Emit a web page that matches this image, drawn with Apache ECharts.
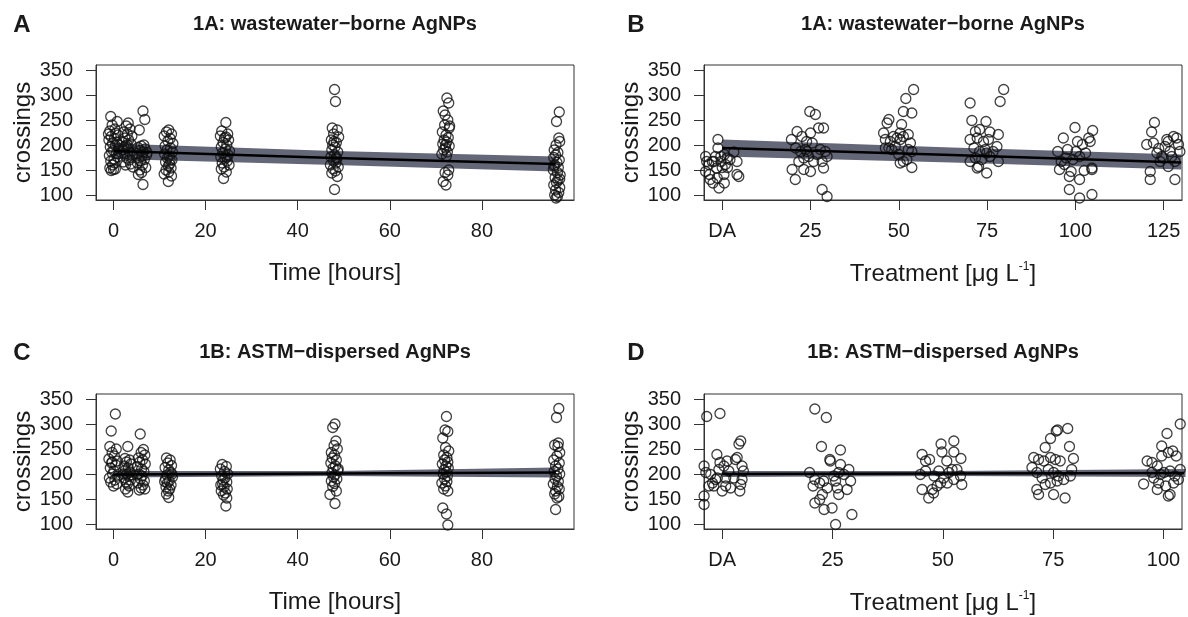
<!DOCTYPE html>
<html><head><meta charset="utf-8">
<script src="https://cdn.jsdelivr.net/npm/echarts@6/dist/echarts.min.js"></script>
<style>html,body{margin:0;padding:0;background:#fff}#c{width:1188px;height:617px}</style>
</head><body><div id="c"></div>
<script>
// ---------- tick labels / texts ----------
const yTicks = [100, 150, 200, 250, 300, 350];
const timeTicks = [0, 20, 40, 60, 80];
const treatTicksB = [0, 25, 50, 75, 100, 125];
const treatTicksD = [0, 25, 50, 75, 100];
const panelLetters = ['A', 'B', 'C', 'D'];
const panelTitles = ['1A: wastewater\u2212borne AgNPs', '1A: wastewater\u2212borne AgNPs',
                     '1B: ASTM\u2212dispersed AgNPs', '1B: ASTM\u2212dispersed AgNPs'];

// ---------- Panel A: crossings vs time ----------
const pointsA = [
 [-0.6,257],[0.8,247],[-0.3,240],[0.3,232],[-0.8,228],[0.5,224],[1.0,220],[-0.5,217],[0.2,213],[-1.0,210],[0.7,206],[-0.2,203],[0.4,199],[-0.7,196],[1.1,193],[0.0,189],[-0.4,186],[0.6,183],[-0.9,179],[0.9,176],[0.1,172],[-0.6,168],[0.3,164],[-0.2,160],[-0.8,154],[0.0,151],[-0.5,149],[0.4,152],[-1.1,222],[1.2,200],
 [3.2,244],[2.8,238],[3.6,232],[2.2,226],[3.0,222],[4.0,218],[2.5,214],[3.3,210],[1.9,206],[3.8,202],[2.7,198],[3.1,194],[2.0,190],[3.5,186],[2.4,182],[4.1,178],[2.9,174],[3.4,170],[2.1,166],[3.7,162],[2.6,160],[4.2,156],[3.0,200],[2.3,196],
 [6.4,268],[6.8,251],[5.6,230],[6.0,198],[5.3,195],[6.9,192],[5.8,189],[6.5,186],[5.1,183],[7.2,180],[6.2,177],[5.5,174],[6.7,171],[5.9,168],[5.2,164],[6.3,160],[7.0,155],[5.7,150],[6.1,145],[5.4,141],[6.6,200],[6.4,121],[7.3,185],[5.0,178],
 [12.0,230],[11.5,226],[12.6,222],[11.0,218],[12.3,213],[11.8,208],[12.9,203],[11.2,198],[12.4,194],[11.6,190],[12.8,186],[11.1,182],[12.1,178],[11.7,174],[12.7,170],[11.3,166],[12.2,162],[11.9,158],[12.5,154],[11.4,150],[12.0,146],[11.0,142],[12.6,138],[11.9,127],[12.3,170],
 [24.4,245],[23.5,228],[24.8,222],[23.2,218],[24.1,214],[25.0,210],[23.8,205],[24.6,200],[23.4,196],[24.3,192],[25.2,188],[23.7,184],[24.9,180],[23.3,176],[24.2,172],[24.7,168],[23.6,164],[25.1,160],[24.0,156],[23.4,152],[24.5,146],[23.9,133],[24.4,216],[24.6,176],
 [48.0,311],[48.2,287],[47.5,234],[48.6,230],[47.8,222],[48.9,216],[47.3,210],[48.4,205],[47.6,200],[48.1,196],[47.4,190],[48.7,186],[48.0,180],[47.2,176],[48.5,172],[47.8,168],[48.3,164],[47.1,160],[48.8,156],[47.7,152],[48.2,148],[47.4,144],[48.6,137],[48.0,111],[47.9,207],[48.4,175],
 [72.4,294],[72.8,284],[71.6,268],[72.0,260],[72.6,250],[71.9,240],[72.9,234],[71.4,226],[72.2,220],[72.7,215],[71.8,210],[72.4,206],[71.5,202],[72.9,198],[72.1,194],[71.7,190],[72.5,186],[71.3,182],[72.3,178],[72.8,150],[72.0,145],[72.6,140],[71.6,127],[72.2,120],[72.1,200],[73.0,238],
 [96.8,266],[96.2,247],[96.7,214],[96.9,207],[96.1,200],[95.7,190],[96.5,185],[96.0,180],[95.6,175],[96.8,170],[96.3,165],[95.8,160],[96.6,155],[95.5,150],[96.4,145],[97.0,140],[95.9,135],[96.5,130],[96.2,125],[95.6,120],[96.9,115],[96.0,110],[96.7,105],[95.8,100],[96.4,97],[96.1,94],[96.9,132],[95.6,158]
];
const fitXA = [0, 48, 96];
const fitA = [188, 174, 162];
const loA = [172, 160, 147];
const hiA = [203, 188, 177];

// ---------- Panel B: crossings vs treatment ----------
const pointsB = [
 [-4.7,177],[-4.4,167],[-4.7,147],[-3.6,141],[-3.4,131],[-2.6,124],[-2.3,167],[-1.6,154],[-1.2,211],[-1.2,194],[-0.9,114],[-0.4,177],[-0.3,167],[0.0,155],[0.5,141],[0.6,124],[0.9,161],[1.4,174],[1.5,155],[2.2,171],[3.3,186],[4.2,167],[4.2,141],[4.7,137],[-3.8,161],[-2.8,167],[-1.9,177],[0.6,181],[-1.4,134],
 [19.6,211],[21.2,227],[22.6,217],[24.8,267],[26.4,261],[25.0,224],[23.9,207],[20.8,194],[22.2,187],[23.6,191],[25.5,204],[27.3,234],[28.7,234],[27.8,191],[29.2,187],[29.7,177],[28.3,167],[28.7,154],[26.9,181],[25.9,167],[24.5,177],[23.1,174],[21.7,167],[23.1,151],[25.0,147],[19.8,151],[20.7,131],[28.3,111],[29.7,97],[24.0,187],
 [54.2,311],[52.0,293],[51.3,267],[53.7,264],[50.8,241],[50.4,224],[47.2,251],[46.7,244],[45.7,224],[46.2,211],[47.6,207],[48.5,217],[49.5,214],[50.4,211],[51.3,217],[52.7,221],[53.3,204],[53.7,187],[52.3,171],[51.3,167],[50.4,164],[53.7,155],[46.2,194],[48.0,191],[49.0,197],[47.2,194],[52.7,191],[50.0,181],
 [70.2,284],[78.7,287],[79.7,311],[70.7,249],[74.7,247],[72.9,231],[71.7,227],[75.8,226],[78.2,221],[70.2,211],[72.2,214],[74.0,207],[75.4,211],[77.8,197],[71.3,194],[72.9,187],[74.9,184],[76.7,187],[71.7,174],[73.5,171],[70.2,167],[72.6,157],[74.9,144],[78.2,167],[75.8,177],[72.2,154],[74.5,191],
 [99.9,235],[104.9,229],[96.6,214],[104.2,207],[95.0,187],[97.8,191],[100.6,207],[102.0,201],[102.9,184],[96.0,167],[97.4,174],[99.3,171],[101.2,177],[104.7,154],[95.5,151],[98.3,137],[101.2,131],[102.5,149],[104.7,151],[98.3,111],[101.2,94],[104.7,101],[100.2,187],[96.9,161],[103.8,214],[98.8,147],
 [122.4,245],[121.6,226],[120.2,201],[122.1,204],[123.6,193],[125.9,211],[127.8,217],[129.2,201],[126.8,187],[124.9,174],[124.0,167],[128.2,167],[126.3,157],[121.2,147],[121.2,131],[128.2,131],[125.4,197],[129.6,187],[124.5,177],[127.3,177],[123.1,184],[128.7,214],[126.3,207]
];
const fitXB = [0, 65, 130];
const fitB = [194, 180, 165];
const loB = [177, 165, 151];
const hiB = [211, 195, 181];

// ---------- Panel C: crossings vs time ----------
const pointsC = [
 [0.4,320],[-0.5,286],[-0.8,255],[0.6,250],[-0.3,243],[0.2,236],[-1.0,230],[0.8,226],[-0.4,222],[0.5,218],[-0.7,212],[0.1,206],[-0.2,200],[0.9,196],[-0.9,192],[0.3,188],[-0.6,184],[0.7,180],[0.0,176],[-0.3,224],
 [3.1,255],[2.5,231],[3.5,228],[2.8,224],[3.8,220],[2.3,216],[3.2,212],[2.6,208],[3.6,204],[2.9,200],[3.3,196],[2.4,192],[3.7,188],[2.7,184],[3.0,180],[3.4,176],[2.6,170],[3.1,164],[2.2,200],[3.9,198],
 [5.8,280],[6.5,249],[6.0,243],[6.8,238],[5.4,232],[6.3,228],[5.7,224],[6.9,220],[5.2,215],[6.1,210],[6.6,205],[5.5,200],[6.2,196],[5.9,190],[6.7,186],[5.3,182],[6.4,178],[6.0,172],[5.6,168],[6.8,170],[5.1,198],
 [11.5,232],[12.3,228],[11.8,222],[12.6,217],[11.2,213],[12.0,208],[12.4,203],[11.6,198],[12.8,194],[11.3,190],[12.1,186],[11.7,182],[12.5,178],[11.4,174],[12.2,170],[11.9,166],[11.5,160],[12.0,153],[12.7,200],[11.1,185],
 [23.6,219],[24.5,215],[23.2,210],[24.1,205],[24.8,200],[23.5,196],[24.2,192],[23.8,188],[24.6,184],[23.3,178],[24.0,174],[24.7,170],[23.4,166],[24.3,162],[23.9,158],[24.6,152],[24.4,136],[23.7,180],
 [48.1,300],[47.6,293],[48.3,266],[47.9,257],[48.6,250],[47.3,243],[48.0,238],[47.5,232],[48.4,228],[47.2,222],[48.2,216],[47.7,212],[48.7,207],[47.4,202],[48.1,198],[47.8,194],[48.5,190],[47.3,186],[48.0,181],[47.6,175],[48.4,166],[47.0,159],[48.1,141],[48.8,210],
 [72.3,315],[72.0,288],[72.6,285],[71.5,272],[72.1,253],[72.8,246],[71.7,238],[72.4,233],[71.9,228],[72.6,224],[71.4,220],[72.2,216],[72.7,212],[71.8,208],[72.3,204],[71.6,200],[72.5,196],[71.9,190],[72.4,185],[71.3,182],[72.1,176],[71.7,170],[72.6,166],[71.5,132],[72.3,120],[72.6,98],
 [96.7,331],[96.2,313],[96.6,262],[95.8,258],[96.9,243],[96.3,236],[95.6,228],[96.8,222],[96.0,216],[96.5,210],[95.7,205],[96.9,200],[96.2,196],[95.9,190],[96.6,185],[95.5,180],[96.4,175],[96.8,170],[96.0,166],[95.8,160],[96.7,155],[96.3,152],[96.0,129],[96.5,255]
];
const fitXC = [0, 48, 96];
const fitC = [199, 201, 203];
const loC = [193, 196, 193];
const hiC = [206, 206, 213];

// ---------- Panel D: crossings vs treatment ----------
const pointsD = [
 [-3.5,315],[-0.5,321],[-4.1,216],[-3.7,203],[-4.1,156],[-4.1,139],[-3.0,176],[-2.6,199],[-2.2,182],[-1.2,239],[-1.1,192],[-0.75,209],[-0.5,223],[0.0,166],[0.4,216],[0.8,192],[1.1,226],[1.5,206],[1.9,172],[2.65,192],[3.0,229],[3.4,233],[3.8,260],[4.2,266],[4.2,179],[4.5,216],[4.8,206],[4.5,189],[4.0,166],[-1.9,176],[-1.5,189],[0.8,176],
 [21.0,330],[23.6,313],[22.5,255],[24.4,229],[24.5,226],[26.8,248],[19.8,203],[20.6,176],[21.0,189],[22.1,182],[22.7,159],[22.1,149],[21.0,142],[23.1,129],[24.9,132],[25.7,99],[29.4,119],[25.3,196],[26.4,203],[27.6,199],[28.7,209],[29.1,186],[28.3,169],[26.4,159],[26.1,172],[26.8,219],[23.8,172],[23.0,186],[25.7,186],
 [49.6,260],[52.5,266],[49.8,244],[52.5,244],[45.3,239],[46.1,226],[47.0,229],[50.9,226],[54.1,231],[44.9,199],[46.1,206],[48.0,196],[49.1,206],[51.4,203],[53.2,209],[54.0,196],[45.3,169],[46.8,152],[47.6,169],[48.7,176],[49.5,182],[51.0,182],[52.5,189],[54.3,179],[47.9,162],[50.2,192],[52.1,209],
 [76.0,288],[75.7,286],[78.3,291],[74.4,271],[73.2,253],[70.6,233],[71.7,229],[72.9,226],[74.4,233],[75.5,229],[76.6,226],[78.7,255],[79.6,231],[79.2,209],[70.2,213],[71.3,203],[72.5,192],[73.9,209],[75.1,203],[76.2,196],[77.4,189],[78.9,196],[71.3,169],[71.7,159],[73.2,179],[74.4,182],[75.1,159],[77.7,152],[75.9,186],
 [100.8,281],[103.8,300],[99.6,256],[101.1,243],[96.3,226],[97.4,223],[98.6,216],[99.6,236],[102.1,246],[102.9,236],[95.5,180],[97.8,192],[98.9,182],[100.1,203],[101.5,206],[102.6,196],[103.8,209],[98.6,169],[100.5,176],[101.1,156],[101.5,159],[102.3,182],[103.4,189],[99.3,199],[97.4,203]
];
const fitXD = [0, 52, 105];
const fitD = [200, 201, 202];
const loD = [194, 196, 194];
const hiD = [206, 206, 210];

// ---------- build chart ----------
const FONT = 'Liberation Sans, Arial, Helvetica, sans-serif';
const INK = '#1a1a1a';
const grids = [
  {left: 96, top: 65, width: 478, height: 135},
  {left: 704, top: 65, width: 478, height: 135},
  {left: 96, top: 394, width: 478, height: 135},
  {left: 704, top: 394, width: 478, height: 135}
].map(g => Object.assign({show: true, borderColor: '#333', borderWidth: 1, backgroundColor: 'transparent'}, g));

const treatName = 'Treatment [\u03bcg L{sup|-1}]';
const panels = [
  {pts: pointsA, fx: fitXA, f: fitA, lo: loA, hi: hiA, xmin: -3.8, xmax: 100, ticks: timeTicks, name: 'Time [hours]', fmt: v => String(v)},
  {pts: pointsB, fx: fitXB, f: fitB, lo: loB, hi: hiB, xmin: -5.15, xmax: 130.2, ticks: treatTicksB, name: treatName, fmt: v => v === 0 ? 'DA' : String(v)},
  {pts: pointsC, fx: fitXC, f: fitC, lo: loC, hi: hiC, xmin: -3.8, xmax: 100, ticks: timeTicks, name: 'Time [hours]', fmt: v => String(v)},
  {pts: pointsD, fx: fitXD, f: fitD, lo: loD, hi: hiD, xmin: -4.12, xmax: 104.2, ticks: treatTicksD, name: treatName, fmt: v => v === 0 ? 'DA' : String(v)}
];

const xAxis = [], yAxis = [], series = [];
panels.forEach((p, i) => {
  xAxis.push({
    type: 'value', gridIndex: i, min: p.xmin, max: p.xmax,
    axisLine: {show: true, onZero: false, lineStyle: {color: '#333', width: 1}},
    axisTick: {show: true, inside: false, length: 10, customValues: p.ticks, lineStyle: {color: '#333', width: 1}},
    axisLabel: {customValues: p.ticks, margin: 21, fontSize: 20, color: INK, fontFamily: FONT, formatter: p.fmt},
    splitLine: {show: false},
    name: p.name, nameLocation: 'middle', nameGap: 61,
    nameTextStyle: {fontSize: 24, color: INK, fontFamily: FONT,
      rich: {sup: {fontSize: 12, color: INK, fontFamily: FONT, padding: [0, 0, 14, 0]}}}
  });
  yAxis.push({
    type: 'value', gridIndex: i, min: 90, max: 360,
    axisLine: {show: true, onZero: false, lineStyle: {color: '#333', width: 1}},
    axisTick: {show: true, inside: false, length: 10, customValues: yTicks, lineStyle: {color: '#333', width: 1}},
    axisLabel: {customValues: yTicks, margin: 23, fontSize: 20, color: INK, fontFamily: FONT},
    splitLine: {show: false},
    name: 'crossings', nameLocation: 'middle', nameGap: 57, nameRotate: 90,
    nameTextStyle: {fontSize: 24, color: INK, fontFamily: FONT}
  });
  series.push({
    type: 'custom', xAxisIndex: i, yAxisIndex: i, silent: true, z: 1,
    data: [[0, 0]],
    renderItem: (params, api) => {
      const pts = [];
      for (let k = 0; k < p.fx.length; k++) pts.push(api.coord([p.fx[k], p.hi[k]]));
      for (let k = p.fx.length - 1; k >= 0; k--) pts.push(api.coord([p.fx[k], p.lo[k]]));
      return {type: 'polygon', shape: {points: pts}, style: {fill: 'rgb(100,103,120)', stroke: 'none'}};
    }
  });
  series.push({
    type: 'scatter', xAxisIndex: i, yAxisIndex: i, z: 2, silent: true,
    data: p.pts, symbol: 'circle', symbolSize: 10,
    itemStyle: {color: 'rgba(0,0,0,0)', borderColor: '#111', borderWidth: 1.3}
  });
  series.push({
    type: 'line', xAxisIndex: i, yAxisIndex: i, z: 3, silent: true,
    data: p.fx.map((x, k) => [x, p.f[k]]), symbol: 'none',
    lineStyle: {color: '#000', width: 2.6}
  });
});

const graphic = [];
const letterPos = [[22, 25], [636, 25], [22, 353], [636, 353]];
const titleY = [24, 24, 352, 352];
grids.forEach((g, i) => {
  graphic.push({type: 'text', x: letterPos[i][0], y: letterPos[i][1],
    style: {text: panelLetters[i], font: 'bold 24px ' + FONT, fill: INK, textAlign: 'center', textVerticalAlign: 'middle'}});
  graphic.push({type: 'text', x: g.left + g.width / 2, y: titleY[i],
    style: {text: panelTitles[i], font: 'bold 20px ' + FONT, fill: INK, textAlign: 'center', textVerticalAlign: 'middle'}});
});

const chart = echarts.init(document.getElementById('c'), null, {renderer: 'canvas'});
chart.setOption({animation: false, backgroundColor: '#fff', grid: grids, xAxis, yAxis, series, graphic});
</script></body></html>
